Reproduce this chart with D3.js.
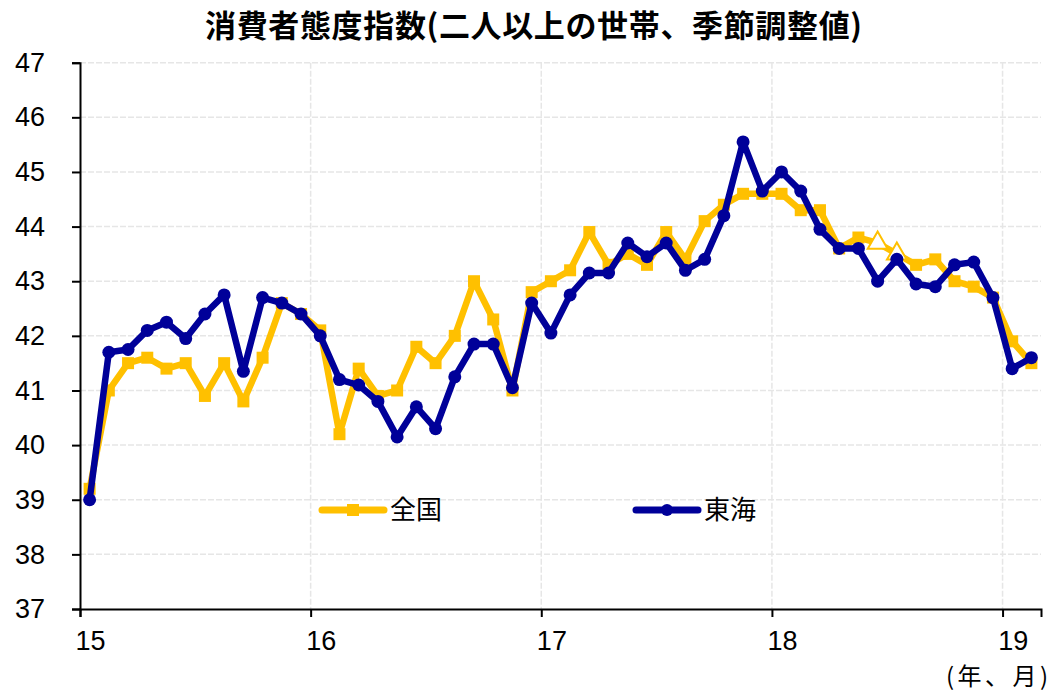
<!DOCTYPE html>
<html>
<head>
<meta charset="utf-8">
<script src="https://cdn.jsdelivr.net/npm/d3@7"></script>
<style>
  html, body { margin: 0; padding: 0; background: #ffffff; }
  svg { display: block; }
</style>
</head>
<body>
<svg id="chart" width="1056" height="693"></svg>
<script>
// ---- Data (monthly, Jan 2015 – Feb 2019) ----
const title = "消費者態度指数(二人以上の世帯、季節調整値)";
const seriesNames = ["全国", "東海"];
const yearTickLabels = ["15", "16", "17", "18", "19"];
const yTickValues = [37, 38, 39, 40, 41, 42, 43, 44, 45, 46, 47];
const xAxisNote = "(年、月)";

const zenkoku = [
  39.2, 41.0, 41.5, 41.6, 41.4, 41.5, 40.9, 41.5, 40.8, 41.6, 42.6, 42.4,
  42.1, 40.2, 41.4, 40.9, 41.0, 41.8, 41.5, 42.0, 43.0, 42.3, 41.0, 42.8,
  43.0, 43.2, 43.9, 43.3, 43.5, 43.3, 43.9, 43.4, 44.1, 44.4, 44.6, 44.6,
  44.6, 44.3, 44.3, 43.6, 43.8, 43.7, 43.5, 43.3, 43.4, 43.0, 42.9, 42.7,
  41.9, 41.5
];
const tokai = [
  39.0, 41.7, 41.75, 42.1, 42.25, 41.95, 42.4, 42.75, 41.35, 42.7, 42.6, 42.4,
  42.0, 41.2, 41.1, 40.8, 40.15, 40.7, 40.3, 41.25, 41.85, 41.85, 41.05, 42.6,
  42.05, 42.75, 43.15, 43.15, 43.7, 43.45, 43.7, 43.2, 43.4, 44.2, 45.55, 44.65,
  45.0, 44.65, 43.95, 43.6, 43.6, 43.0, 43.4, 42.95, 42.9, 43.3, 43.35, 42.7,
  41.4, 41.6
];
// months of 全国 drawn with open-triangle markers
const zenkokuTriangleIdx = [41, 42];

// ---- Layout ----
const plotL = 80, plotR = 1041, plotT = 62.7, plotB = 609;
const YELLOW = "#FFC000", NAVY = "#000099";
const numFont = "'Liberation Sans', Arial, sans-serif";
const jpFont = "'Noto Sans CJK JP', 'Noto Sans CJK SC', sans-serif";

const svg = d3.select("#chart");

const x = d3.scaleLinear().domain([0, 50]).range([plotL, plotR]);
const xc = i => x(i + 0.5);
const y = d3.scaleLinear().domain([37, 47]).range([plotB, plotT]);

// gridlines
const grid = svg.append("g");
grid.selectAll("line.h").data(yTickValues.filter(v => v > 37)).enter().append("line")
  .attr("x1", plotL).attr("x2", plotR)
  .attr("y1", d => y(d)).attr("y2", d => y(d))
  .attr("stroke", "#e6e6e6").attr("stroke-width", 1.5).attr("stroke-dasharray", "6,2");
const yearIdx = yearTickLabels.map((d, k) => k * 12);
grid.selectAll("line.v").data(yearIdx.filter(d => d > 0)).enter().append("line")
  .attr("x1", d => x(d)).attr("x2", d => x(d))
  .attr("y1", plotT).attr("y2", plotB)
  .attr("stroke", "#e6e6e6").attr("stroke-width", 1.5).attr("stroke-dasharray", "6,2");

// y axis
const yAxis = d3.axisLeft(y).tickValues(yTickValues).tickSize(8).tickPadding(27).tickFormat(d3.format("d"));
const gy = svg.append("g").attr("transform", `translate(${plotL},0)`).call(yAxis);
gy.select(".domain").attr("stroke", "#000").attr("stroke-width", 2);
gy.selectAll(".tick line").attr("stroke", "#000").attr("stroke-width", 2);
gy.selectAll(".tick text").attr("font-family", numFont).attr("font-size", 27).attr("fill", "#000");

// x axis
const xAxis = d3.axisBottom(x).tickValues(yearIdx).tickSize(8).tickFormat(() => "");
const gx = svg.append("g").attr("transform", `translate(0,${plotB})`).call(xAxis);
gx.select(".domain").attr("stroke", "#000").attr("stroke-width", 2);
gx.selectAll(".tick line").attr("stroke", "#000").attr("stroke-width", 2);
svg.append("g").selectAll("text").data(yearTickLabels).enter().append("text")
  .attr("x", (d, k) => xc(k * 12) + 1)
  .attr("y", 650)
  .attr("text-anchor", "middle")
  .attr("font-family", numFont).attr("font-size", 27).attr("fill", "#000")
  .text(d => d);

svg.append("text").attr("x", 946).attr("y", 685)
  .attr("font-family", jpFont).attr("font-size", 24).attr("fill", "#000")
  .attr("letter-spacing", 3.5)
  .text(xAxisNote);

// title
svg.append("text").attr("x", 205).attr("y", 37)
  .attr("font-family", jpFont).attr("font-weight", "bold").attr("font-size", 31).attr("fill", "#000")
  .attr("textLength", 657).attr("lengthAdjust", "spacing")
  .text(title);

// lines
const line = d3.line().x((d, i) => xc(i)).y(d => y(d));
svg.append("path").datum(zenkoku).attr("d", line)
  .attr("fill", "none").attr("stroke", YELLOW).attr("stroke-width", 6.5)
  .attr("stroke-linejoin", "round");
const sq = 12;
svg.append("g").selectAll("rect")
  .data(zenkoku.map((v, i) => ({ v, i })).filter(d => !zenkokuTriangleIdx.includes(d.i)))
  .enter().append("rect")
  .attr("x", d => xc(d.i) - sq / 2).attr("y", d => y(d.v) - sq / 2)
  .attr("width", sq).attr("height", sq).attr("fill", YELLOW);
const tri = d3.symbol().type(d3.symbolTriangle).size(170);
svg.append("g").selectAll("path")
  .data(zenkokuTriangleIdx.map(i => ({ i, v: zenkoku[i] })))
  .enter().append("path")
  .attr("d", tri)
  .attr("transform", d => `translate(${xc(d.i)},${y(d.v)})`)
  .attr("fill", "#fff").attr("stroke", YELLOW).attr("stroke-width", 2);

svg.append("path").datum(tokai).attr("d", line)
  .attr("fill", "none").attr("stroke", NAVY).attr("stroke-width", 6.5)
  .attr("stroke-linejoin", "round");
svg.append("g").selectAll("circle").data(tokai).enter().append("circle")
  .attr("cx", (d, i) => xc(i)).attr("cy", d => y(d)).attr("r", 6.5).attr("fill", NAVY);

// legend
const legend = [
  { name: seriesNames[0], color: YELLOW, shape: "square", x0: 322 },
  { name: seriesNames[1], color: NAVY, shape: "circle", x0: 636 }
];
const lg = svg.append("g");
legend.forEach(L => {
  const ly = 510;
  lg.append("line").attr("x1", L.x0).attr("x2", L.x0 + 62).attr("y1", ly).attr("y2", ly)
    .attr("stroke", L.color).attr("stroke-width", 7).attr("stroke-linecap", "round");
  if (L.shape === "square") {
    lg.append("rect").attr("x", L.x0 + 31 - 6).attr("y", ly - 6).attr("width", 12).attr("height", 12).attr("fill", L.color);
  } else {
    lg.append("circle").attr("cx", L.x0 + 31).attr("cy", ly).attr("r", 6).attr("fill", L.color);
  }
  lg.append("text").attr("x", L.x0 + 68).attr("y", ly + 9)
    .attr("font-family", jpFont).attr("font-size", 26).attr("fill", "#000")
    .text(L.name);
});
</script>
</body>
</html>
